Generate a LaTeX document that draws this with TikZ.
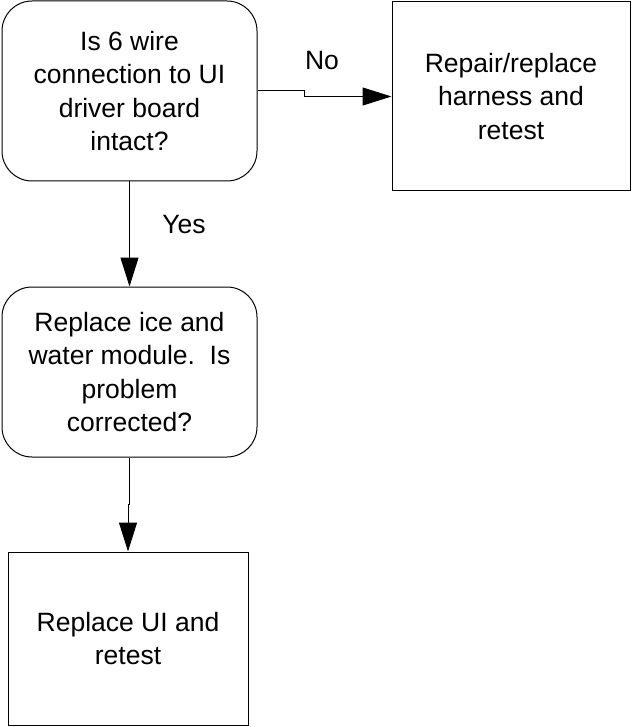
\documentclass[tikz,border=0pt]{standalone}
\usepackage{fontspec}
\setmainfont{Liberation Sans}
\usetikzlibrary{arrows.meta}

\begin{document}
\begin{tikzpicture}[x=1pt,y=-1pt,
        decision/.style={draw,line width=1pt,rounded corners=30pt,align=center,
            minimum width=255pt,inner sep=0pt,font=\fontsize{26.5}{33.3}\selectfont},
        action/.style={draw,line width=1pt,align=center,
            minimum width=238pt,inner sep=0pt,font=\fontsize{26.5}{33.3}\selectfont},
        flow/.style={line width=1pt,-{Triangle[length=29pt,width=18pt]}},
        answer/.style={font=\fontsize{26.5}{33.3}\selectfont}]
            \useasboundingbox (0,0) rectangle (631,727);

            \node[decision,minimum height=180pt] (wire) at (129.5,91)
                {Is 6 wire\\connection to UI\\driver board\\intact?};
            \node[action,minimum height=189pt] (harness) at (511,96.5)
                {Repair/replace\\harness and\\retest};
            \node[decision,minimum height=170pt] (module) at (129.5,372)
                {Replace ice and\\water module.\ \ Is\\problem\\corrected?};
            \node[action,minimum width=240pt,minimum height=173pt] (ui) at (128,638.5)
                {Replace UI and\\retest};

            \node[answer] (no) at (322,61) {No};
            \node[answer] (yes) at (184,225) {Yes};

            \draw[flow] (wire.east) -- ++(47,0) |- (harness.west);
            \draw[flow] (wire.south) -- (module.north);
            \draw[flow] (module.south) -- ++(0,47) -| (ui.north);
        \end{tikzpicture}
\end{document}
